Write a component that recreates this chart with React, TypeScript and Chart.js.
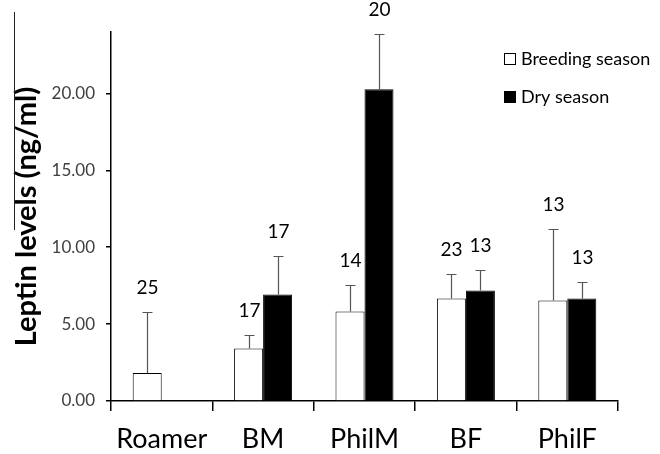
import React, { useEffect, useRef } from "react";
import { Chart, registerables } from "chart.js";

Chart.register(...registerables);

const categories = ["Roamer", "BM", "PhilM", "BF", "PhilF"];
const breedingMeans = [1.82, 3.42, 5.82, 6.67, 6.54];
const breedingErr = [4.0, 0.85, 1.73, 1.56, 4.65];
const breedingN = [25, 17, 14, 23, 13];
const dryMeans = [null, 6.93, 20.28, 7.19, 6.67];
const dryErr = [null, 2.47, 3.57, 1.34, 1.1];
const dryN = [null, 17, 20, 13, 13];
const yTickValues = [0, 5, 10, 15, 20];
const seriesLabels = ["Breeding season", "Dry season"];

const FONT = "Lato, 'DejaVu Sans', sans-serif";

const errorPlugin = {
  id: "errorAndLabels",
  afterDatasetsDraw(chart: any) {
    const ctx = chart.ctx;
    const yScale = chart.scales.y;
    const errs = [breedingErr, dryErr];
    const ns = [breedingN, dryN];
    chart.data.datasets.forEach((ds: any, di: number) => {
      const meta = chart.getDatasetMeta(di);
      meta.data.forEach((bar: any, i: number) => {
        const v = ds.data[i];
        const e = errs[di][i];
        if (v == null || e == null) return;
        const x = Math.round(bar.x) + 0.5;
        const y0 = yScale.getPixelForValue(v);
        const y1 = Math.round(yScale.getPixelForValue(v + e)) + 0.5;
        ctx.save();
        ctx.strokeStyle = "#555555";
        ctx.lineWidth = 1.2;
        ctx.beginPath();
        ctx.moveTo(x, y0);
        ctx.lineTo(x, y1);
        ctx.moveTo(x - 5, y1);
        ctx.lineTo(x + 5, y1);
        ctx.stroke();
        const n = ns[di][i];
        if (n != null) {
          ctx.fillStyle = "#000";
          ctx.font = `19px ${FONT}`;
          ctx.textAlign = "center";
          ctx.textBaseline = "middle";
          ctx.fillText(String(n), x, y1 - 25);
        }
        ctx.restore();
      });
    });
  },
  afterDraw(chart: any) {
    const ctx = chart.ctx;
    ctx.save();
    // legend
    const lx = 504;
    const rows = [59, 97];
    chart.data.datasets.forEach((ds: any, di: number) => {
      const cy = rows[di];
      ctx.fillStyle = ds.backgroundColor;
      ctx.fillRect(lx, cy - 6, 12, 12);
      ctx.strokeStyle = "#000";
      ctx.lineWidth = 1;
      ctx.strokeRect(lx + 0.5, cy - 5.5, 11, 11);
      ctx.fillStyle = "#000";
      ctx.font = `18px ${FONT}`;
      ctx.textAlign = "left";
      ctx.textBaseline = "middle";
      ctx.fillText(ds.label, lx + 17, cy);
    });
    // thin stray line from the original figure
    ctx.strokeStyle = "#222";
    ctx.lineWidth = 1;
    ctx.beginPath();
    ctx.moveTo(14.5, 12);
    ctx.lineTo(14.5, 230);
    ctx.stroke();
    ctx.restore();
  },
};

export default function App() {
  const ref = useRef<HTMLCanvasElement>(null);
  useEffect(() => {
    document.body.style.margin = "0";
    const chart = new Chart(ref.current!, {
      type: "bar",
      data: {
        labels: categories,
        datasets: [
          {
            label: seriesLabels[0],
            data: breedingMeans,
            backgroundColor: "#ffffff",
            borderColor: "#000000",
            borderWidth: 1,
          },
          {
            label: seriesLabels[1],
            data: dryMeans as any,
            backgroundColor: "#000000",
            borderColor: "#000000",
            borderWidth: 1,
          },
        ],
      },
      options: {
        animation: false,
        responsive: false,
        layout: { padding: { top: 32, right: 42, left: 0, bottom: 0 } },
        plugins: { legend: { display: false }, tooltip: { enabled: false } },
        datasets: { bar: { barPercentage: 1, categoryPercentage: 0.572 } },
        scales: {
          x: {
            offset: true,
            grid: {
              offset: true,
              drawOnChartArea: false,
              drawTicks: true,
              tickLength: 10,
              color: "#000",
              lineWidth: 1.5,
            },
            border: { display: true, color: "#000", width: 1.5 },
            ticks: {
              color: "#000",
              font: { family: FONT, size: 27 },
              padding: 12,
            },
            afterFit(scale: any) {
              scale.height = 53;
            },
          },
          y: {
            min: 0,
            max: 24,
            afterBuildTicks(scale: any) {
              scale.ticks = yTickValues.map((v) => ({ value: v }));
            },
            grid: {
              drawOnChartArea: false,
              drawTicks: true,
              tickLength: 5,
              color: "#000",
              lineWidth: 1.5,
            },
            border: { display: true, color: "#000", width: 1.5 },
            ticks: {
              color: "#404040",
              font: { family: FONT, size: 17 },
              padding: 11,
              callback: (v: any) => Number(v).toFixed(2),
            },
            title: {
              display: true,
              text: "Leptin levels (ng/ml)",
              color: "#000",
              font: { family: FONT, size: 29, weight: "bold" },
              padding: { top: 9, bottom: 0 },
            },
            afterFit(scale: any) {
              scale.width = 111;
            },
          },
        },
      },
      plugins: [errorPlugin],
    });
    return () => chart.destroy();
  }, []);
  return (
    <div style={{ width: 660, height: 454 }}>
      <canvas ref={ref} width={660} height={454} style={{ display: "block" }} />
    </div>
  );
}
